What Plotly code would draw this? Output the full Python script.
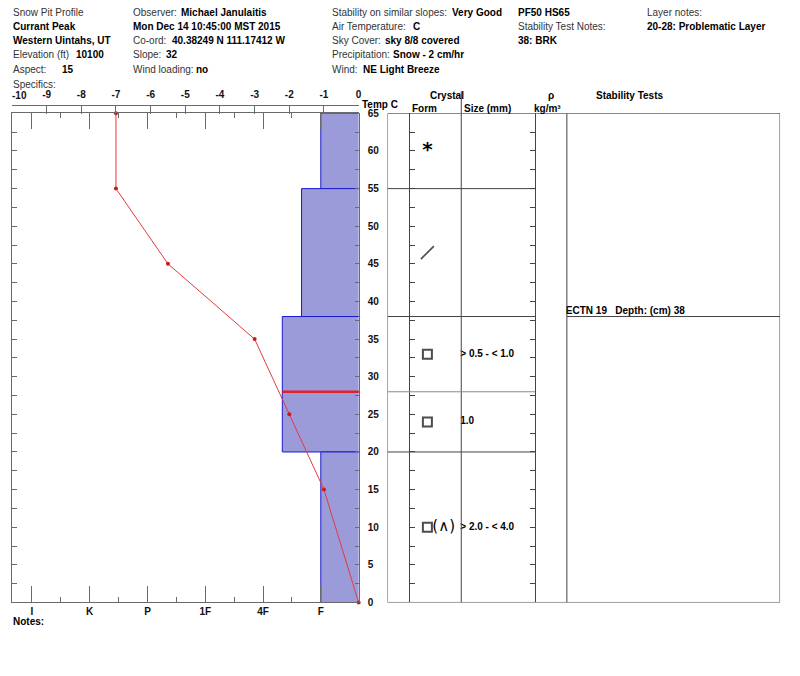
import plotly.graph_objects as go

W, H = 800, 676
SY = 0.9875  # small vertical compensation observed in the photographed page


def fx(px):
    return px / W


def fy(py):
    return 1 - (H / 2 + (py - H / 2) / SY) / H


# ---------------- data ----------------
temp_depth = [65, 55, 45, 35, 25, 15, 0]
temp_c = [-7.0, -7.0, -5.5, -3.0, -2.0, -1.0, 0.0]

layer_top = [65, 55, 38, 28, 20]
layer_bottom = [55, 38, 28, 20, 0]
layer_hardness = ['F', 'F+', '4F-', '4F-', 'F']
layer_form = ['*', '/', '□', '□', '□(∧)']
layer_size = ['', '', '> 0.5 - < 1.0', '1.0', '> 2.0 - < 4.0']

hardness_tick_labels = ['I', 'K', 'P', '1F', '4F', 'F']
temp_ticks = list(range(-10, 1))
depth_labels = list(range(0, 66, 5))

problem_depths = [28]
stab_tests = ['ECTN 19']
stab_depths = [38]

# ---------------- derived ----------------
hard_base = {'F': 1, '4F': 2, '1F': 3, 'P': 4, 'K': 5, 'I': 6}


def hard_value(h):
    if h.endswith('+'):
        return hard_base[h[:-1]] + 1 / 3
    if h.endswith('-'):
        return hard_base[h[:-1]] - 1 / 3
    return hard_base[h]


hard_vals = [hard_value(h) for h in layer_hardness]
mids = [(t + b) / 2 for t, b in zip(layer_top, layer_bottom)]
thick = [t - b for t, b in zip(layer_top, layer_bottom)]
hard_major = [hard_base[k] for k in hardness_tick_labels]
hard_minor = [v - 0.5 for v in hard_major[:-1]]

glyph_marker = {'/': ('line-ne-open', 13, 1.6), '□': ('square-open', 9, 2.0)}
mk_idx = [i for i, f in enumerate(layer_form) if f[0] in glyph_marker]
tx_idx = [i for i, f in enumerate(layer_form) if f[0] not in glyph_marker]

FONT = 'Liberation Sans'
AX = '#6a6a6a'
TL = '#444444'
bold10 = dict(family=FONT, size=10, color='#111', weight='bold')

fig = go.Figure()

# hardness bars
fig.add_trace(go.Bar(
    x=hard_vals, y=mids, width=thick, orientation='h',
    marker=dict(color='#9b9bd9', line=dict(color='#1a1ad0', width=1)),
    xaxis='x', yaxis='y', hoverinfo='skip', showlegend=False))

# problematic layer boundary
for d in problem_depths:
    idx = layer_top.index(d) if d in layer_top else layer_bottom.index(d)
    fig.add_trace(go.Scatter(
        x=[hard_vals[idx], 0], y=[d, d], mode='lines',
        line=dict(color='#e0202a', width=2.5),
        xaxis='x3', yaxis='y', hoverinfo='skip', showlegend=False))

# temperature profile
fig.add_trace(go.Scatter(
    x=temp_c, y=temp_depth, mode='lines+markers',
    line=dict(color='#e33a3f', width=1),
    marker=dict(size=4, color='#d01818'),
    cliponaxis=False, xaxis='x2', yaxis='y2', hoverinfo='skip', showlegend=False))

# crystal form glyphs (drawn as markers)
fig.add_trace(go.Scatter(
    x=[429] * len(mk_idx), y=[mids[i] for i in mk_idx], mode='markers',
    marker=dict(symbol=[glyph_marker[layer_form[i][0]][0] for i in mk_idx],
                size=[glyph_marker[layer_form[i][0]][1] for i in mk_idx],
                color='#000',
                line=dict(color='#000', width=[glyph_marker[layer_form[i][0]][2] for i in mk_idx])),
    cliponaxis=False, xaxis='x4', yaxis='y3', hoverinfo='skip', showlegend=False))
# crystal form glyphs (drawn as text)
fig.add_trace(go.Scatter(
    x=[429] * len(tx_idx), y=[mids[i] for i in tx_idx], text=[layer_form[i][0] for i in tx_idx],
    mode='text', textposition='middle center',
    textfont=dict(family='DejaVu Sans', size=20, color='#000', weight='bold'),
    cliponaxis=False, xaxis='x4', yaxis='y3', hoverinfo='skip', showlegend=False))
# qualifier after the glyph
fig.add_trace(go.Scatter(
    x=[434] * len(mids), y=mids, text=[f[1:] for f in layer_form], mode='text',
    textposition='middle right',
    textfont=dict(family='DejaVu Sans', size=15, color='#000'),
    cliponaxis=False, xaxis='x4', yaxis='y3', hoverinfo='skip', showlegend=False))

# crystal sizes
fig.add_trace(go.Scatter(
    x=[462] * len(mids), y=mids, text=layer_size, mode='text',
    textposition='middle right',
    textfont=dict(family=FONT, size=10, color='#000', weight='bold'),
    cliponaxis=False, xaxis='x4', yaxis='y4', hoverinfo='skip', showlegend=False))

# stability tests
fig.add_trace(go.Scatter(
    x=[568] * len(stab_tests), y=stab_depths,
    text=[f'{t}\u00a0\u00a0 Depth: (cm) {d}' for t, d in zip(stab_tests, stab_depths)],
    mode='text', textposition='top right',
    textfont=dict(family=FONT, size=10, color='#000', weight='bold'),
    cliponaxis=False, xaxis='x4', yaxis='y3', hoverinfo='skip', showlegend=False))

ydom = [fy(604), fy(113)]
xdom = [fx(12), fx(360)]
x4dom = [fx(389), fx(783)]

shapes = []
shapes.append(dict(type='rect', xref='x4', yref='y3', x0=389, x1=783, y0=0, y1=65,
                   line=dict(color=TL, width=1)))
for cx in [463, 569]:
    shapes.append(dict(type='line', xref='x4', yref='y3', x0=cx, x1=cx, y0=0, y1=65,
                       line=dict(color=TL, width=1)))
shapes.append(dict(type='line', xref='x4', yref='paper', x0=463, x1=463, y0=fy(113), y1=fy(91),
                   line=dict(color=TL, width=1)))
for b in layer_bottom:
    if b == 0:
        continue
    col = '#8a8a8a' if b in problem_depths else TL
    shapes.append(dict(type='line', xref='x4', yref='y3', x0=389, x1=537, y0=b, y1=b,
                       line=dict(color=col, width=1)))
    if b in stab_depths:
        shapes.append(dict(type='line', xref='x4', yref='y3', x0=569, x1=783, y0=b, y1=b,
                           line=dict(color=TL, width=1)))

ann = []


def txt(px, py, s, size=10, color='#333'):
    ann.append(dict(x=fx(px), y=fy(py), xref='paper', yref='paper', text=s,
                    showarrow=False, xanchor='left', yanchor='middle', borderpad=0,
                    font=dict(family=FONT, size=size, color=color)))


r = [11.7, 25.7, 40.0, 54.3, 69.3, 84.3]
txt(12, r[0], 'Snow Pit Profile')
txt(12, r[1], '<b>Currant Peak</b>', color='#000')
txt(12, r[2], '<b>Western Uintahs, UT</b>', color='#000')
txt(12, r[3], 'Elevation (ft)')
txt(75, r[3], '<b>10100</b>', color='#000')
txt(12, r[4], 'Aspect:')
txt(61, r[4], '<b>15</b>', color='#000')
txt(12, r[5], 'Specifics:')

txt(132, r[0], 'Observer:')
txt(181, r[0], '<b>Michael Janulaitis</b>', color='#000')
txt(132, r[1], '<b>Mon Dec 14 10:45:00 MST 2015</b>', color='#000')
txt(132, r[2], 'Co-ord:')
txt(172, r[2], '<b>40.38249 N 111.17412 W</b>', color='#000')
txt(132, r[3], 'Slope:')
txt(166, r[3], '<b>32</b>', color='#000')
txt(132, r[4], 'Wind loading:')
txt(196, r[4], '<b>no</b>', color='#000')

txt(332, r[0], 'Stability on similar slopes:')
txt(453, r[0], '<b>Very Good</b>', color='#000')
txt(332, r[1], 'Air Temperature:')
txt(414, r[1], '<b>C</b>', color='#000')
txt(332, r[2], 'Sky Cover:')
txt(385, r[2], '<b>sky 8/8 covered</b>', color='#000')
txt(332, r[3], 'Precipitation:')
txt(393, r[3], '<b>Snow - 2 cm/hr</b>', color='#000')
txt(332, r[4], 'Wind:')
txt(363, r[4], '<b>NE Light Breeze</b>', color='#000')

txt(519, r[0], '<b>PF50 HS65</b>', color='#000')
txt(519, r[1], 'Stability Test Notes:')
txt(519, r[2], '<b>38: BRK</b>', color='#000')

txt(648, r[0], 'Layer notes:')
txt(648, r[1], '<b>20-28: Problematic Layer</b>', color='#000')

# column headers
txt(431, 95, '<b>Crystal</b>', color='#000')
txt(413, 108, '<b>Form</b>', color='#000')
txt(465, 108, '<b>Size (mm)</b>', color='#000')
txt(549, 95, '<b>ρ</b>', color='#000')
txt(535, 108, '<b>kg/m³</b>', color='#000')
txt(597, 95, '<b>Stability Tests</b>', color='#000')
txt(362, 104, '<b>Temp C</b>', color='#000')
txt(12, 623, '<b>Notes:</b>', color='#000')

# first temperature tick label kept inside the page (left-aligned at the axis start)
temp_ticktext = [str(v) for v in temp_ticks]
txt(11, 95, f'<b>{temp_ticktext[0]}</b>', color='#111')
temp_ticktext[0] = ''

common = dict(showgrid=False, zeroline=False, fixedrange=True)

fig.update_layout(
    width=W, height=H, margin=dict(l=0, r=0, t=0, b=0, pad=0),
    paper_bgcolor='white', plot_bgcolor='rgba(0,0,0,0)',
    showlegend=False, barmode='overlay',
    xaxis=dict(domain=xdom, range=[6.345, 0.345], anchor='y', side='bottom',
               tickmode='array', tickvals=hard_major, ticktext=hardness_tick_labels,
               ticks='inside', ticklen=16, tickcolor=AX, showline=True, linecolor=AX,
               tickfont=bold10, ticklabelstandoff=0,
               minor=dict(tickvals=hard_minor, ticks='inside', ticklen=5, tickcolor=AX),
               **common),
    xaxis2=dict(overlaying='x', anchor='free', position=fy(105), side='top',
                range=[-10, 0], tickmode='array', tickvals=temp_ticks,
                ticktext=temp_ticktext,
                ticks='inside', ticklen=8, tickcolor=AX, showline=True, linecolor=AX,
                tickfont=bold10, ticklabelstandoff=3, **common),
    xaxis3=dict(overlaying='x', anchor='y', side='top', range=[6.345, 0.345],
                tickmode='array', tickvals=hard_major, showticklabels=False,
                ticks='inside', ticklen=16, tickcolor=AX, showline=True, linecolor=AX,
                minor=dict(tickvals=hard_minor, ticks='inside', ticklen=5, tickcolor=AX),
                **common),
    yaxis=dict(domain=ydom, range=[0, 65], anchor='x', side='left',
               tickmode='linear', tick0=0, dtick=2.5, ticks='inside', ticklen=5,
               tickcolor=AX, showticklabels=False, showline=True, linecolor=AX, **common),
    yaxis2=dict(overlaying='y', anchor='free', position=fx(360), side='right',
                range=[0, 65], tickmode='array',
                tickvals=[v / 2 for v in range(0, 131, 5)],
                ticktext=[str(int(v / 2)) if (v / 2) in depth_labels else '' for v in range(0, 131, 5)],
                ticks='inside', ticklen=4, tickcolor=AX, showline=True, linecolor=AX,
                tickfont=bold10, ticklabelstandoff=6, **common),
    xaxis4=dict(domain=x4dom, range=[389, 783], anchor='y3', visible=False, **common),
    yaxis3=dict(domain=ydom, range=[0, 65], anchor='free', position=fx(411), side='left',
                tickmode='linear', tick0=0, dtick=2.5, ticks='inside', ticklen=5,
                tickcolor=TL, showticklabels=False, showline=True, linecolor=TL, **common),
    yaxis4=dict(overlaying='y3', anchor='free', position=fx(537), side='right',
                range=[0, 65], tickmode='linear', tick0=0, dtick=2.5, ticks='inside',
                ticklen=5, tickcolor=TL, showticklabels=False, showline=True,
                linecolor=TL, **common),
    shapes=shapes, annotations=ann,
)

fig.write_html(
    'out.html', config=dict(displayModeBar=False),
    post_script="document.body.style.margin='0';document.body.style.padding='0';"
                "document.body.style.overflow='hidden';")
